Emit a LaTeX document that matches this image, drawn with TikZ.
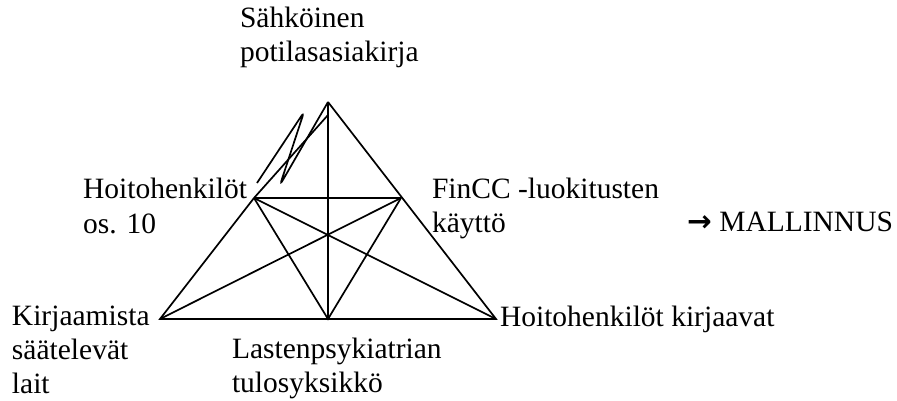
\documentclass[tikz,border=0pt]{standalone}
\usepackage{fontspec}
\setmainfont{Liberation Serif}
\newfontfamily\symfont{DejaVu Sans}
\begin{document}
\begin{tikzpicture}[x=1pt,y=-1pt,line width=1.7pt,line join=miter,
  lbl/.style={inner sep=0pt,outer sep=0pt,align=left,font=\fontsize{29.5}{34}\selectfont}]
\useasboundingbox (0,0) rectangle (897,400);
\coordinate (A) at (328,102);
\coordinate (B) at (160,319);
\coordinate (C) at (496,319);
\coordinate (D) at (328,319);
\coordinate (E) at (401,198);
\coordinate (F) at (254,198);
\coordinate (Q) at (328,115);
\coordinate (P1) at (257,183);
\coordinate (P2) at (304,112);
\coordinate (P3) at (280,185);
\draw (A) -- (C) -- (B) -- (F) -- (Q);
\draw (A) -- (D);
\draw (F) -- (E);
\draw (F) -- (C);
\draw (E) -- (B);
\draw (F) -- (D) -- (E);
\draw[rounded corners=5pt] (P1) -- (P2) -- (P3) -- (A);
% base anchor of a multi-line node is the baseline of its last line
\node[lbl,anchor=base west] (t1) at (240,61) {Sähköinen\\potilasasiakirja};
\node[lbl,anchor=base east] (t2) at (247,198) {Hoitohenkilöt};
\node[lbl,anchor=base west] (t2b) at (t2.base west) [yshift=-35pt] {os. 10};
\node[lbl,anchor=base west] (t3) at (432,232) {FinCC -luokitusten\\käyttö};
\node[lbl,anchor=base west] (t4) at (12,393) {Kirjaamista\\säätelevät\\lait};
\node[lbl,anchor=base west] (t5) at (232,392) {Lastenpsykiatrian\\tulosyksikkö};
\node[lbl,anchor=base west] (t6) at (500,326) {Hoitohenkilöt kirjaavat};
\node[lbl,anchor=base east] (t7) at (893,231) {{\symfont\bfseries →} MALLINNUS};
\end{tikzpicture}
\end{document}
